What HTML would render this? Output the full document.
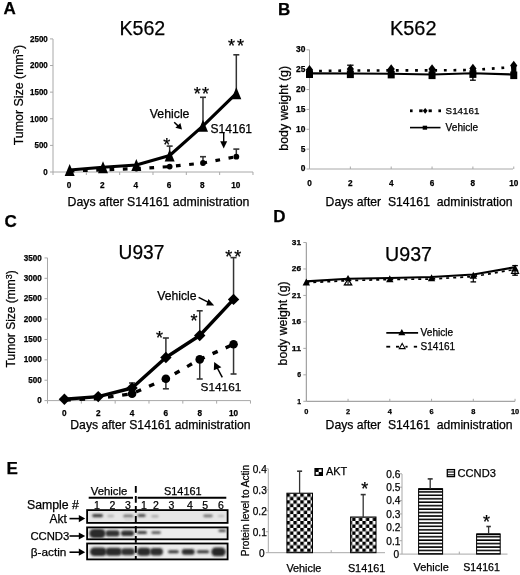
<!DOCTYPE html>
<html><head><meta charset="utf-8"><title>Figure</title>
<style>
html,body{margin:0;padding:0;background:#fff;}
body{width:520px;height:575px;overflow:hidden;}
svg{display:block;font-family:"Liberation Sans", sans-serif;will-change:transform;}
text{fill:#000;stroke:#000;stroke-width:0.25px;}
</style></head><body>
<svg width="520" height="575" viewBox="0 0 520 575">
<rect width="520" height="575" fill="#fff"/>
<text x="3.6" y="14.1" font-size="17" font-weight="bold" text-anchor="start" >A</text>
<text x="119.4" y="34.6" font-size="20" font-weight="normal" text-anchor="start" textLength="45.9" lengthAdjust="spacingAndGlyphs">K562</text>
<line x1="53" y1="39" x2="53" y2="172" stroke="#a8a8a8" stroke-width="1" />
<line x1="53" y1="172" x2="253" y2="172" stroke="#a8a8a8" stroke-width="1" />
<line x1="50" y1="172.0" x2="53" y2="172.0" stroke="#a8a8a8" stroke-width="1" />
<text x="47.8" y="174.9" font-size="9.0" font-weight="bold" text-anchor="end" textLength="4.45" lengthAdjust="spacingAndGlyphs">0</text>
<line x1="50" y1="145.38" x2="53" y2="145.38" stroke="#a8a8a8" stroke-width="1" />
<text x="47.8" y="148.28" font-size="9.0" font-weight="bold" text-anchor="end" textLength="13.35" lengthAdjust="spacingAndGlyphs">500</text>
<line x1="50" y1="118.75999999999999" x2="53" y2="118.75999999999999" stroke="#a8a8a8" stroke-width="1" />
<text x="47.8" y="121.66" font-size="9.0" font-weight="bold" text-anchor="end" textLength="17.80" lengthAdjust="spacingAndGlyphs">1000</text>
<line x1="50" y1="92.14" x2="53" y2="92.14" stroke="#a8a8a8" stroke-width="1" />
<text x="47.8" y="95.04" font-size="9.0" font-weight="bold" text-anchor="end" textLength="17.80" lengthAdjust="spacingAndGlyphs">1500</text>
<line x1="50" y1="65.52" x2="53" y2="65.52" stroke="#a8a8a8" stroke-width="1" />
<text x="47.8" y="68.42" font-size="9.0" font-weight="bold" text-anchor="end" textLength="17.80" lengthAdjust="spacingAndGlyphs">2000</text>
<line x1="50" y1="38.900000000000006" x2="53" y2="38.900000000000006" stroke="#a8a8a8" stroke-width="1" />
<text x="47.8" y="41.8" font-size="9.0" font-weight="bold" text-anchor="end" textLength="17.80" lengthAdjust="spacingAndGlyphs">2500</text>
<line x1="53.0" y1="172" x2="53.0" y2="175" stroke="#a8a8a8" stroke-width="1" />
<line x1="86.33" y1="172" x2="86.33" y2="175" stroke="#a8a8a8" stroke-width="1" />
<line x1="119.66" y1="172" x2="119.66" y2="175" stroke="#a8a8a8" stroke-width="1" />
<line x1="152.99" y1="172" x2="152.99" y2="175" stroke="#a8a8a8" stroke-width="1" />
<line x1="186.32" y1="172" x2="186.32" y2="175" stroke="#a8a8a8" stroke-width="1" />
<line x1="219.64999999999998" y1="172" x2="219.64999999999998" y2="175" stroke="#a8a8a8" stroke-width="1" />
<line x1="252.98" y1="172" x2="252.98" y2="175" stroke="#a8a8a8" stroke-width="1" />
<text x="69.07" y="188.2" font-size="8.2" font-weight="bold" text-anchor="middle" >0</text>
<text x="102.4" y="188.2" font-size="8.2" font-weight="bold" text-anchor="middle" >2</text>
<text x="135.73" y="188.2" font-size="8.2" font-weight="bold" text-anchor="middle" >4</text>
<text x="169.06" y="188.2" font-size="8.2" font-weight="bold" text-anchor="middle" >6</text>
<text x="202.39" y="188.2" font-size="8.2" font-weight="bold" text-anchor="middle" >8</text>
<text x="235.72" y="188.2" font-size="8.2" font-weight="bold" text-anchor="middle" >10</text>
<text x="67.6" y="206.3" font-size="12.3" font-weight="normal" text-anchor="start" >Days after S14161 administration</text>
<text transform="translate(22.9,95) rotate(-90)" font-size="12.4" text-anchor="middle">Tumor Size (mm<tspan font-size="9.5" dy="-3.8">3</tspan><tspan dy="3.8">)</tspan></text>
<line x1="169.66" y1="155.5" x2="169.66" y2="146.1" stroke="#333" stroke-width="1.5" />
<line x1="166.66" y1="146.1" x2="172.66" y2="146.1" stroke="#333" stroke-width="1.6" />
<line x1="202.99" y1="125.8" x2="202.99" y2="97.3" stroke="#333" stroke-width="1.5" />
<line x1="199.99" y1="97.3" x2="205.99" y2="97.3" stroke="#333" stroke-width="1.6" />
<line x1="236.32" y1="93.3" x2="236.32" y2="54.8" stroke="#333" stroke-width="1.5" />
<line x1="233.32" y1="54.8" x2="239.32" y2="54.8" stroke="#333" stroke-width="1.6" />
<line x1="202.99" y1="163.0" x2="202.99" y2="156.7" stroke="#333" stroke-width="1.5" />
<line x1="199.99" y1="156.7" x2="205.99" y2="156.7" stroke="#333" stroke-width="1.6" />
<line x1="236.32" y1="156.7" x2="236.32" y2="149.1" stroke="#333" stroke-width="1.5" />
<line x1="233.32" y1="149.1" x2="239.32" y2="149.1" stroke="#333" stroke-width="1.6" />
<polyline points="69.67,171.0 103.0,169.8 136.33,168.6 169.66,166.6 202.99,163.0 236.32,156.7" fill="none" stroke="#000" stroke-width="3.2" stroke-dasharray="4.7 8.6" stroke-linejoin="round" />
<circle cx="103.0" cy="169.8" r="2.9" fill="#000"/>
<circle cx="136.33" cy="168.6" r="2.9" fill="#000"/>
<circle cx="169.66" cy="166.6" r="2.9" fill="#000"/>
<circle cx="202.99" cy="163.0" r="2.9" fill="#000"/>
<circle cx="236.32" cy="156.7" r="2.9" fill="#000"/>
<polyline points="69.67,170.0 103.0,167.2 136.33,165.0 169.66,155.5 202.99,125.8 236.32,93.3" fill="none" stroke="#000" stroke-width="3.1"  stroke-linejoin="round" />
<polygon points="69.67,164.0 74.67,176.0 64.67,176.0" fill="#000" stroke="none" stroke-width="1"/>
<polygon points="103.0,161.2 108.0,173.2 98.0,173.2" fill="#000" stroke="none" stroke-width="1"/>
<polygon points="136.33,159.0 141.33,171.0 131.33,171.0" fill="#000" stroke="none" stroke-width="1"/>
<polygon points="169.66,149.5 174.66,161.5 164.66,161.5" fill="#000" stroke="none" stroke-width="1"/>
<polygon points="202.99,119.8 207.99,131.8 197.99,131.8" fill="#000" stroke="none" stroke-width="1"/>
<polygon points="236.32,87.3 241.32,99.3 231.32,99.3" fill="#000" stroke="none" stroke-width="1"/>
<text x="163.13" y="150.72" font-size="18" font-weight="normal" text-anchor="start" stroke="#000" stroke-width="0.4">*</text>
<text x="193.84" y="100.43" font-size="18" font-weight="normal" text-anchor="start" stroke="#000" stroke-width="0.4">*</text>
<text x="201.94" y="100.43" font-size="18" font-weight="normal" text-anchor="start" stroke="#000" stroke-width="0.4">*</text>
<text x="228.03" y="52.23" font-size="18" font-weight="normal" text-anchor="start" stroke="#000" stroke-width="0.4">*</text>
<text x="236.94" y="52.23" font-size="18" font-weight="normal" text-anchor="start" stroke="#000" stroke-width="0.4">*</text>
<text x="149.8" y="118.0" font-size="12.3" font-weight="normal" text-anchor="start" >Vehicle</text>
<text x="210.5" y="133.3" font-size="12.05" font-weight="normal" text-anchor="start" >S14161</text>
<line x1="174.2" y1="122.2" x2="178.6" y2="126.4" stroke="#000" stroke-width="1.5" />
<polygon points="182,129.4 175.4,127.8 180.4,122.9" fill="#000"/>
<line x1="223.7" y1="132.5" x2="223.7" y2="142" stroke="#000" stroke-width="1.4" />
<polygon points="223.7,148.6 220.2,141.3 227.2,141.3" fill="#000"/>
<text x="278.0" y="15.2" font-size="17" font-weight="bold" text-anchor="start" >B</text>
<text x="390.0" y="35.4" font-size="20" font-weight="normal" text-anchor="start" textLength="46.5" lengthAdjust="spacingAndGlyphs">K562</text>
<line x1="309.5" y1="49.8" x2="309.5" y2="169" stroke="#a8a8a8" stroke-width="1" />
<line x1="309.5" y1="169" x2="513" y2="169" stroke="#a8a8a8" stroke-width="1" />
<line x1="306.5" y1="169.0" x2="309.5" y2="169.0" stroke="#a8a8a8" stroke-width="1" />
<text x="305.4" y="171.4" font-size="8.4" font-weight="bold" text-anchor="end" >0</text>
<line x1="306.5" y1="149.14" x2="309.5" y2="149.14" stroke="#a8a8a8" stroke-width="1" />
<text x="305.4" y="151.54" font-size="8.4" font-weight="bold" text-anchor="end" >5</text>
<line x1="306.5" y1="129.28" x2="309.5" y2="129.28" stroke="#a8a8a8" stroke-width="1" />
<text x="305.4" y="131.68" font-size="8.4" font-weight="bold" text-anchor="end" >10</text>
<line x1="306.5" y1="109.42" x2="309.5" y2="109.42" stroke="#a8a8a8" stroke-width="1" />
<text x="305.4" y="111.82" font-size="8.4" font-weight="bold" text-anchor="end" >15</text>
<line x1="306.5" y1="89.56" x2="309.5" y2="89.56" stroke="#a8a8a8" stroke-width="1" />
<text x="305.4" y="91.96" font-size="8.4" font-weight="bold" text-anchor="end" >20</text>
<line x1="306.5" y1="69.7" x2="309.5" y2="69.7" stroke="#a8a8a8" stroke-width="1" />
<text x="305.4" y="72.1" font-size="8.4" font-weight="bold" text-anchor="end" >25</text>
<line x1="306.5" y1="49.84" x2="309.5" y2="49.84" stroke="#a8a8a8" stroke-width="1" />
<text x="305.4" y="52.24" font-size="8.4" font-weight="bold" text-anchor="end" >30</text>
<text x="309.5" y="186.2" font-size="8.2" font-weight="bold" text-anchor="middle" >0</text>
<line x1="350.35" y1="166.5" x2="350.35" y2="169" stroke="#a8a8a8" stroke-width="1" />
<text x="350.35" y="186.2" font-size="8.2" font-weight="bold" text-anchor="middle" >2</text>
<line x1="391.2" y1="166.5" x2="391.2" y2="169" stroke="#a8a8a8" stroke-width="1" />
<text x="391.2" y="186.2" font-size="8.2" font-weight="bold" text-anchor="middle" >4</text>
<line x1="432.05" y1="166.5" x2="432.05" y2="169" stroke="#a8a8a8" stroke-width="1" />
<text x="432.05" y="186.2" font-size="8.2" font-weight="bold" text-anchor="middle" >6</text>
<line x1="472.9" y1="166.5" x2="472.9" y2="169" stroke="#a8a8a8" stroke-width="1" />
<text x="472.9" y="186.2" font-size="8.2" font-weight="bold" text-anchor="middle" >8</text>
<line x1="513.75" y1="166.5" x2="513.75" y2="169" stroke="#a8a8a8" stroke-width="1" />
<text x="513.75" y="186.2" font-size="8.2" font-weight="bold" text-anchor="middle" >10</text>
<text x="325.6" y="205.7" font-size="12.2" font-weight="normal" text-anchor="start" >Days after&#160; S14161&#160; administration</text>
<text transform="translate(288.3,108.3) rotate(-90)" font-size="12.4" text-anchor="middle">body weight (g)</text>
<line x1="472.9" y1="74" x2="472.9" y2="80.2" stroke="#000" stroke-width="1.3" />
<line x1="470.0" y1="80.2" x2="475.79999999999995" y2="80.2" stroke="#000" stroke-width="1.3" />
<line x1="347.15000000000003" y1="65.2" x2="353.55" y2="65.2" stroke="#000" stroke-width="1.3" />
<polyline points="309.5,73.4 350.35,73.5 391.2,73.8 432.05,74.5 472.9,73.3 513.75,74.5" fill="none" stroke="#000" stroke-width="2.1"  stroke-linejoin="round" />
<polyline points="309.5,71.2 350.35,70.5 391.2,70.4 432.05,70.4 472.9,70.0 513.75,67.0" fill="none" stroke="#000" stroke-width="2.6" stroke-dasharray="2.8 6.8" stroke-linejoin="round" />
<rect x="306.0" y="70.4" width="7.0" height="7.6" fill="#000" />
<rect x="306.9" y="69.7" width="5.2" height="3.700000000000003" fill="#000" />
<rect x="346.85" y="70.5" width="7.0" height="7.6" fill="#000" />
<rect x="347.75" y="69.0" width="5.2" height="4.5" fill="#000" />
<rect x="387.7" y="70.8" width="7.0" height="7.6" fill="#000" />
<rect x="388.6" y="68.9" width="5.2" height="4.8999999999999915" fill="#000" />
<rect x="428.55" y="71.5" width="7.0" height="7.6" fill="#000" />
<rect x="429.45" y="68.9" width="5.2" height="5.599999999999994" fill="#000" />
<rect x="469.4" y="70.3" width="7.0" height="7.6" fill="#000" />
<rect x="470.3" y="68.5" width="5.2" height="4.799999999999997" fill="#000" />
<rect x="510.25" y="71.5" width="7.0" height="7.6" fill="#000" />
<rect x="511.15" y="65.5" width="5.2" height="9.0" fill="#000" />
<polygon points="309.50,65.00 313.10,69.70 309.50,74.40 305.90,69.70" fill="#000"/>
<polygon points="350.35,64.30 353.95,69.00 350.35,73.70 346.75,69.00" fill="#000"/>
<polygon points="391.20,64.20 394.80,68.90 391.20,73.60 387.60,68.90" fill="#000"/>
<polygon points="432.05,64.20 435.65,68.90 432.05,73.60 428.45,68.90" fill="#000"/>
<polygon points="472.90,63.80 476.50,68.50 472.90,73.20 469.30,68.50" fill="#000"/>
<polygon points="513.75,60.80 517.35,65.50 513.75,70.20 510.15,65.50" fill="#000"/>
<rect x="410.0" y="109.4" width="2.6000000000000227" height="2.8" fill="#000" />
<rect x="419.2" y="109.4" width="3.400000000000034" height="2.8" fill="#000" />
<rect x="428.6" y="109.4" width="3.1999999999999886" height="2.8" fill="#000" />
<rect x="438.4" y="109.4" width="2.6000000000000227" height="2.8" fill="#000" />
<polygon points="425.2,107.9 427.6,110.8 425.2,113.8 422.8,110.8" fill="#000"/>
<line x1="410" y1="127.6" x2="440.5" y2="127.6" stroke="#000" stroke-width="1.6" />
<rect x="422.7" y="125.7" width="4.4" height="4.0" fill="#000" />
<text x="445.6" y="113.7" font-size="9.8" font-weight="normal" text-anchor="start" >S14161</text>
<text x="445.6" y="131.1" font-size="10.1" font-weight="normal" text-anchor="start" >Vehicle</text>
<text x="4.5" y="227.2" font-size="17" font-weight="bold" text-anchor="start" >C</text>
<text x="118.6" y="259.3" font-size="20" font-weight="normal" text-anchor="start" textLength="45.7" lengthAdjust="spacingAndGlyphs">U937</text>
<line x1="47.5" y1="257.9" x2="47.5" y2="400.6" stroke="#a8a8a8" stroke-width="1" />
<line x1="47.5" y1="400.6" x2="250.5" y2="400.6" stroke="#a8a8a8" stroke-width="1" />
<line x1="44.5" y1="400.6" x2="47.5" y2="400.6" stroke="#a8a8a8" stroke-width="1" />
<text x="41.8" y="403.2" font-size="8.8" font-weight="bold" text-anchor="end" textLength="4.50" lengthAdjust="spacingAndGlyphs">0</text>
<line x1="44.5" y1="380.22" x2="47.5" y2="380.22" stroke="#a8a8a8" stroke-width="1" />
<text x="41.8" y="382.82" font-size="8.8" font-weight="bold" text-anchor="end" textLength="13.50" lengthAdjust="spacingAndGlyphs">500</text>
<line x1="44.5" y1="359.84000000000003" x2="47.5" y2="359.84000000000003" stroke="#a8a8a8" stroke-width="1" />
<text x="41.8" y="362.44" font-size="8.8" font-weight="bold" text-anchor="end" textLength="18.00" lengthAdjust="spacingAndGlyphs">1000</text>
<line x1="44.5" y1="339.46000000000004" x2="47.5" y2="339.46000000000004" stroke="#a8a8a8" stroke-width="1" />
<text x="41.8" y="342.06" font-size="8.8" font-weight="bold" text-anchor="end" textLength="18.00" lengthAdjust="spacingAndGlyphs">1500</text>
<line x1="44.5" y1="319.08000000000004" x2="47.5" y2="319.08000000000004" stroke="#a8a8a8" stroke-width="1" />
<text x="41.8" y="321.68" font-size="8.8" font-weight="bold" text-anchor="end" textLength="18.00" lengthAdjust="spacingAndGlyphs">2000</text>
<line x1="44.5" y1="298.70000000000005" x2="47.5" y2="298.70000000000005" stroke="#a8a8a8" stroke-width="1" />
<text x="41.8" y="301.3" font-size="8.8" font-weight="bold" text-anchor="end" textLength="18.00" lengthAdjust="spacingAndGlyphs">2500</text>
<line x1="44.5" y1="278.32000000000005" x2="47.5" y2="278.32000000000005" stroke="#a8a8a8" stroke-width="1" />
<text x="41.8" y="280.92" font-size="8.8" font-weight="bold" text-anchor="end" textLength="18.00" lengthAdjust="spacingAndGlyphs">3000</text>
<line x1="44.5" y1="257.94000000000005" x2="47.5" y2="257.94000000000005" stroke="#a8a8a8" stroke-width="1" />
<text x="41.8" y="260.54" font-size="8.8" font-weight="bold" text-anchor="end" textLength="18.00" lengthAdjust="spacingAndGlyphs">3500</text>
<line x1="47.5" y1="400.6" x2="47.5" y2="403.6" stroke="#a8a8a8" stroke-width="1" />
<line x1="81.33" y1="400.6" x2="81.33" y2="403.6" stroke="#a8a8a8" stroke-width="1" />
<line x1="115.16" y1="400.6" x2="115.16" y2="403.6" stroke="#a8a8a8" stroke-width="1" />
<line x1="148.99" y1="400.6" x2="148.99" y2="403.6" stroke="#a8a8a8" stroke-width="1" />
<line x1="182.82" y1="400.6" x2="182.82" y2="403.6" stroke="#a8a8a8" stroke-width="1" />
<line x1="216.64999999999998" y1="400.6" x2="216.64999999999998" y2="403.6" stroke="#a8a8a8" stroke-width="1" />
<line x1="250.48" y1="400.6" x2="250.48" y2="403.6" stroke="#a8a8a8" stroke-width="1" />
<text x="64.4" y="415.9" font-size="8.2" font-weight="bold" text-anchor="middle" >0</text>
<text x="98.23" y="415.9" font-size="8.2" font-weight="bold" text-anchor="middle" >2</text>
<text x="132.06" y="415.9" font-size="8.2" font-weight="bold" text-anchor="middle" >4</text>
<text x="165.89" y="415.9" font-size="8.2" font-weight="bold" text-anchor="middle" >6</text>
<text x="199.72" y="415.9" font-size="8.2" font-weight="bold" text-anchor="middle" >8</text>
<text x="233.55" y="415.9" font-size="8.2" font-weight="bold" text-anchor="middle" >10</text>
<text x="70.3" y="428.9" font-size="12.2" font-weight="normal" text-anchor="start" >Days after S14161 administration</text>
<text transform="translate(15.3,318.8) rotate(-90)" font-size="12.0" text-anchor="middle">Tumor Size (mm<tspan font-size="9.0" dy="-3.4">3</tspan><tspan dy="3.4">)</tspan></text>
<line x1="132.06" y1="388.0" x2="132.06" y2="383.0" stroke="#333" stroke-width="1.5" />
<line x1="129.06" y1="383.0" x2="135.06" y2="383.0" stroke="#333" stroke-width="1.6" />
<line x1="165.89" y1="357.5" x2="165.89" y2="338.0" stroke="#333" stroke-width="1.5" />
<line x1="162.89" y1="338.0" x2="168.89" y2="338.0" stroke="#333" stroke-width="1.6" />
<line x1="199.72" y1="335.5" x2="199.72" y2="310.8" stroke="#333" stroke-width="1.5" />
<line x1="196.72" y1="310.8" x2="202.72" y2="310.8" stroke="#333" stroke-width="1.6" />
<line x1="233.54999999999998" y1="299.4" x2="233.54999999999998" y2="257.6" stroke="#333" stroke-width="1.5" />
<line x1="230.54999999999998" y1="257.6" x2="236.54999999999998" y2="257.6" stroke="#333" stroke-width="1.6" />
<line x1="165.89" y1="378.8" x2="165.89" y2="388.8" stroke="#333" stroke-width="1.5" />
<line x1="162.89" y1="388.8" x2="168.89" y2="388.8" stroke="#333" stroke-width="1.6" />
<line x1="199.72" y1="359.4" x2="199.72" y2="379.0" stroke="#333" stroke-width="1.5" />
<line x1="196.72" y1="379.0" x2="202.72" y2="379.0" stroke="#333" stroke-width="1.6" />
<line x1="233.54999999999998" y1="344.3" x2="233.54999999999998" y2="374.0" stroke="#333" stroke-width="1.5" />
<line x1="230.54999999999998" y1="374.0" x2="236.54999999999998" y2="374.0" stroke="#333" stroke-width="1.6" />
<polyline points="64.4,400.0 98.23,398.5 132.06,393.8 165.89,378.8 199.72,359.4 233.55,344.3" fill="none" stroke="#000" stroke-width="3.4" stroke-dasharray="5.6 8.7" stroke-linejoin="round" stroke-dashoffset="-0.8"/>
<polyline points="64.4,399.3 98.23,396.6 132.06,388.0 165.89,357.5 199.72,335.5 233.55,299.4" fill="none" stroke="#000" stroke-width="3.4"  stroke-linejoin="round" />
<polygon points="64.4,393.6 70.10000000000001,399.3 64.4,405.0 58.7,399.3" fill="#000"/>
<polygon points="98.23,390.90000000000003 103.93,396.6 98.23,402.3 92.53,396.6" fill="#000"/>
<polygon points="132.06,382.3 137.76,388.0 132.06,393.7 126.36,388.0" fill="#000"/>
<polygon points="165.89,351.8 171.58999999999997,357.5 165.89,363.2 160.19,357.5" fill="#000"/>
<polygon points="199.72,329.8 205.42,335.5 199.72,341.2 194.02,335.5" fill="#000"/>
<polygon points="233.55,293.7 239.25,299.4 233.55,305.09999999999997 227.85000000000002,299.4" fill="#000"/>
<circle cx="132.06" cy="393.8" r="4.3" fill="#000"/>
<circle cx="165.89" cy="378.8" r="4.3" fill="#000"/>
<circle cx="199.72" cy="359.4" r="4.3" fill="#000"/>
<circle cx="233.55" cy="344.3" r="4.3" fill="#000"/>
<text x="155.94" y="344.23" font-size="18" font-weight="normal" text-anchor="start" stroke="#000" stroke-width="0.4">*</text>
<text x="190.44" y="327.43" font-size="18" font-weight="normal" text-anchor="start" stroke="#000" stroke-width="0.4">*</text>
<text x="225.34" y="263.03" font-size="18" font-weight="normal" text-anchor="start" stroke="#000" stroke-width="0.4">*</text>
<text x="234.13" y="263.03" font-size="18" font-weight="normal" text-anchor="start" stroke="#000" stroke-width="0.4">*</text>
<text x="157.2" y="299.5" font-size="12.2" font-weight="normal" text-anchor="start" >Vehicle</text>
<text x="200.6" y="391.3" font-size="11.8" font-weight="normal" text-anchor="start" >S14161</text>
<line x1="198.6" y1="297.4" x2="208.5" y2="302.4" stroke="#000" stroke-width="1.5" />
<polygon points="214.2,305.6 206.2,305.4 208.4,299.0" fill="#000"/>
<line x1="222.3" y1="377.3" x2="216.5" y2="366.5" stroke="#000" stroke-width="1.5" />
<polygon points="214.2,362.0 221.4,367.2 213.8,370.2" fill="#000"/>
<text x="273.2" y="222.3" font-size="17" font-weight="bold" text-anchor="start" >D</text>
<text x="385.1" y="260.8" font-size="20" font-weight="normal" text-anchor="start" textLength="46.9" lengthAdjust="spacingAndGlyphs">U937</text>
<line x1="306.3" y1="242.5" x2="306.3" y2="401.3" stroke="#8e8e8e" stroke-width="1" />
<line x1="306.3" y1="401.3" x2="515" y2="401.3" stroke="#8e8e8e" stroke-width="1" />
<line x1="303.3" y1="401.3" x2="306.3" y2="401.3" stroke="#a8a8a8" stroke-width="1" />
<text x="301.0" y="403.7" font-size="6.8" font-weight="bold" text-anchor="end" >1</text>
<line x1="303.3" y1="374.83333333333337" x2="306.3" y2="374.83333333333337" stroke="#a8a8a8" stroke-width="1" />
<text x="301.0" y="377.23" font-size="6.8" font-weight="bold" text-anchor="end" >6</text>
<line x1="303.3" y1="348.3666666666667" x2="306.3" y2="348.3666666666667" stroke="#a8a8a8" stroke-width="1" />
<text x="301.0" y="350.77" font-size="6.8" font-weight="bold" text-anchor="end" textLength="9.2" lengthAdjust="spacingAndGlyphs">11</text>
<line x1="303.3" y1="321.9" x2="306.3" y2="321.9" stroke="#a8a8a8" stroke-width="1" />
<text x="301.0" y="324.3" font-size="6.8" font-weight="bold" text-anchor="end" textLength="9.2" lengthAdjust="spacingAndGlyphs">16</text>
<line x1="303.3" y1="295.43333333333334" x2="306.3" y2="295.43333333333334" stroke="#a8a8a8" stroke-width="1" />
<text x="301.0" y="297.83" font-size="6.8" font-weight="bold" text-anchor="end" textLength="9.2" lengthAdjust="spacingAndGlyphs">21</text>
<line x1="303.3" y1="268.9666666666667" x2="306.3" y2="268.9666666666667" stroke="#a8a8a8" stroke-width="1" />
<text x="301.0" y="271.37" font-size="6.8" font-weight="bold" text-anchor="end" textLength="9.2" lengthAdjust="spacingAndGlyphs">26</text>
<line x1="303.3" y1="242.5" x2="306.3" y2="242.5" stroke="#a8a8a8" stroke-width="1" />
<text x="301.0" y="244.9" font-size="6.8" font-weight="bold" text-anchor="end" textLength="9.2" lengthAdjust="spacingAndGlyphs">31</text>
<text x="306.3" y="414.0" font-size="7.4" font-weight="bold" text-anchor="middle" >0</text>
<line x1="348.05" y1="398.8" x2="348.05" y2="401.3" stroke="#a8a8a8" stroke-width="1" />
<text x="348.05" y="414.0" font-size="7.4" font-weight="bold" text-anchor="middle" >2</text>
<line x1="389.8" y1="398.8" x2="389.8" y2="401.3" stroke="#a8a8a8" stroke-width="1" />
<text x="389.8" y="414.0" font-size="7.4" font-weight="bold" text-anchor="middle" >4</text>
<line x1="431.55" y1="398.8" x2="431.55" y2="401.3" stroke="#a8a8a8" stroke-width="1" />
<text x="431.55" y="414.0" font-size="7.4" font-weight="bold" text-anchor="middle" >6</text>
<line x1="473.3" y1="398.8" x2="473.3" y2="401.3" stroke="#a8a8a8" stroke-width="1" />
<text x="473.3" y="414.0" font-size="7.4" font-weight="bold" text-anchor="middle" >8</text>
<line x1="515.05" y1="398.8" x2="515.05" y2="401.3" stroke="#a8a8a8" stroke-width="1" />
<text x="515.05" y="414.0" font-size="7.4" font-weight="bold" text-anchor="middle" >10</text>
<text x="325.6" y="429.0" font-size="12.2" font-weight="normal" text-anchor="start" >Days after&#160; S14161&#160; administration</text>
<text transform="translate(287.0,323.4) rotate(-90)" font-size="12.3" text-anchor="middle">body weight (g)</text>
<polyline points="306.3,282.8 348.05,280.6 389.8,279.5 431.55,279.0 473.3,276.6 515.05,269.4" fill="none" stroke="#000" stroke-width="1.7" stroke-dasharray="3 4" stroke-linejoin="round" />
<line x1="348.05" y1="279" x2="348.05" y2="284.6" stroke="#000" stroke-width="1.1" />
<line x1="344.65000000000003" y1="284.6" x2="351.45" y2="284.6" stroke="#000" stroke-width="1.3" />
<polygon points="348.05,279.2 351.75,284.8 344.35,284.8" fill="#fff" stroke="#000" stroke-width="1.2"/>
<line x1="348.05" y1="280" x2="348.05" y2="284.6" stroke="#000" stroke-width="1.1" />
<line x1="473.3" y1="274" x2="473.3" y2="281.9" stroke="#000" stroke-width="1.2" />
<line x1="470.5" y1="281.9" x2="476.1" y2="281.9" stroke="#000" stroke-width="1.3" />
<line x1="515.05" y1="265.6" x2="515.05" y2="275.2" stroke="#000" stroke-width="1.2" />
<line x1="512.25" y1="265.6" x2="517.8499999999999" y2="265.6" stroke="#000" stroke-width="1.3" />
<line x1="512.25" y1="275.2" x2="517.8499999999999" y2="275.2" stroke="#000" stroke-width="1.3" />
<polygon points="515.05,267.09999999999997 518.55,273.3 511.54999999999995,273.3" fill="#fff" stroke="#000" stroke-width="1.2"/>
<line x1="515.05" y1="271" x2="515.05" y2="275.2" stroke="#000" stroke-width="1.1" />
<polyline points="306.3,281.4 348.05,278.8 389.8,278.0 431.55,277.0 473.3,274.5 515.05,267.2" fill="none" stroke="#000" stroke-width="2.1"  stroke-linejoin="round" />
<polygon points="306.3,278.59999999999997 310.0,285.59999999999997 302.6,285.59999999999997" fill="#000" stroke="none" stroke-width="1"/>
<polygon points="348.05,275.0 351.45,280.79999999999995 344.65000000000003,280.79999999999995" fill="#000" stroke="none" stroke-width="1"/>
<polygon points="389.8,275.2 393.5,282.2 386.1,282.2" fill="#000" stroke="none" stroke-width="1"/>
<polygon points="431.55,274.2 435.25,281.2 427.85,281.2" fill="#000" stroke="none" stroke-width="1"/>
<polygon points="473.3,271.7 477.0,278.7 469.6,278.7" fill="#000" stroke="none" stroke-width="1"/>
<polygon points="515.05,264.4 518.75,271.4 511.34999999999997,271.4" fill="#000" stroke="none" stroke-width="1"/>
<line x1="386.3" y1="332.9" x2="418.1" y2="332.9" stroke="#000" stroke-width="1.9" />
<polygon points="401.8,329.09999999999997 405.3,335.3 398.3,335.3" fill="#000" stroke="none" stroke-width="1"/>
<line x1="386.3" y1="346.7" x2="390.2" y2="346.7" stroke="#000" stroke-width="1.8" />
<line x1="396.0" y1="346.7" x2="399.0" y2="346.7" stroke="#000" stroke-width="1.8" />
<line x1="405.4" y1="346.7" x2="407.6" y2="346.7" stroke="#000" stroke-width="1.8" />
<line x1="413.8" y1="346.7" x2="417.1" y2="346.7" stroke="#000" stroke-width="1.8" />
<polygon points="402.2,343.4 405.09999999999997,348.6 399.3,348.6" fill="#fff" stroke="#000" stroke-width="1.1"/>
<text x="420.6" y="335.9" font-size="10.1" font-weight="normal" text-anchor="start" >Vehicle</text>
<text x="420.6" y="350.1" font-size="10.0" font-weight="normal" text-anchor="start" >S14161</text>
<text x="6.5" y="473.6" font-size="17" font-weight="bold" text-anchor="start" >E</text>
<text x="90.8" y="495.0" font-size="11.35" font-weight="normal" text-anchor="start" >Vehicle</text>
<text x="164.0" y="494.8" font-size="10.9" font-weight="normal" text-anchor="start" >S14161</text>
<line x1="88.7" y1="497.8" x2="133.0" y2="497.8" stroke="#000" stroke-width="2.0" />
<line x1="137.7" y1="497.7" x2="226.3" y2="497.7" stroke="#000" stroke-width="2.0" />
<text x="27.0" y="508.8" font-size="12.3" font-weight="normal" text-anchor="start" >Sample #</text>
<text x="96.9" y="508.7" font-size="10.5" font-weight="normal" text-anchor="middle" >1</text>
<text x="112.3" y="508.7" font-size="10.5" font-weight="normal" text-anchor="middle" >2</text>
<text x="128.0" y="508.7" font-size="10.5" font-weight="normal" text-anchor="middle" >3</text>
<text x="143.8" y="508.7" font-size="10.5" font-weight="normal" text-anchor="middle" >1</text>
<text x="156.0" y="508.7" font-size="10.5" font-weight="normal" text-anchor="middle" >2</text>
<text x="171.3" y="508.7" font-size="10.5" font-weight="normal" text-anchor="middle" >3</text>
<text x="189.9" y="508.7" font-size="10.5" font-weight="normal" text-anchor="middle" >4</text>
<text x="205.1" y="508.7" font-size="10.5" font-weight="normal" text-anchor="middle" >5</text>
<text x="221.0" y="508.7" font-size="10.5" font-weight="normal" text-anchor="middle" >6</text>
<text x="49.5" y="522.5" font-size="12.0" font-weight="normal" text-anchor="start" >Akt</text>
<text x="30.4" y="540.1" font-size="11.3" font-weight="normal" text-anchor="start" >CCND3</text>
<text x="30.8" y="555.6" font-size="11.8" font-weight="normal" text-anchor="start" >&#946;-actin</text>
<line x1="69.5" y1="518.6" x2="80.0" y2="518.6" stroke="#000" stroke-width="1.6" />
<polygon points="85.2,518.6 78.8,515.0 78.8,522.2" fill="#000"/>
<line x1="69.5" y1="536.0" x2="80.0" y2="536.0" stroke="#000" stroke-width="1.6" />
<polygon points="85.2,536.0 78.8,532.4 78.8,539.6" fill="#000"/>
<line x1="69.5" y1="552.2" x2="80.0" y2="552.2" stroke="#000" stroke-width="1.6" />
<polygon points="85.2,552.2 78.8,548.6 78.8,555.8000000000001" fill="#000"/>
<rect x="87.1" y="510.09999999999997" width="140.5" height="12.799999999999965" fill="#e6e6e6" stroke="#000" stroke-width="1.8"/>
<rect x="87.1" y="527.4" width="140.5" height="11.900000000000045" fill="#ececec" stroke="#000" stroke-width="1.8"/>
<rect x="87.1" y="543.5" width="140.5" height="15.899999999999931" fill="#ebebeb" stroke="#000" stroke-width="1.8"/>
<defs><filter id="bl" x="-50%" y="-80%" width="200%" height="260%"><feGaussianBlur stdDeviation="0.9"/></filter></defs>
<rect x="92.2" y="514.00" width="10.80" height="3.2" rx="1.60" fill="#3c3c3c" filter="url(#bl)"/>
<rect x="107.4" y="514.80" width="6.60" height="2.4" rx="1.20" fill="#b0b0b0" filter="url(#bl)"/>
<rect x="123.2" y="514.50" width="10.10" height="3.0" rx="1.50" fill="#7a7a7a" filter="url(#bl)"/>
<rect x="124.5" y="518.25" width="7.50" height="2.5" rx="1.25" fill="#d4d4d4" filter="url(#bl)"/>
<rect x="137.7" y="514.10" width="7.90" height="3.0" rx="1.50" fill="#505050" filter="url(#bl)"/>
<rect x="151.4" y="515.00" width="7.20" height="2.4" rx="1.20" fill="#a8a8a8" filter="url(#bl)"/>
<rect x="203.3" y="514.40" width="9.40" height="2.8" rx="1.40" fill="#707070" filter="url(#bl)"/>
<rect x="217.8" y="514.90" width="6.50" height="2.2" rx="1.10" fill="#b8b8b8" filter="url(#bl)"/>
<rect x="89.3" y="529.00" width="16.30" height="9.0" rx="4.50" fill="#2a2a2a" filter="url(#bl)"/>
<rect x="105.6" y="530.30" width="14.00" height="6.2" rx="3.10" fill="#303030" filter="url(#bl)"/>
<rect x="121.0" y="530.50" width="13.00" height="5.6" rx="2.80" fill="#333333" filter="url(#bl)"/>
<rect x="137.0" y="530.90" width="10.00" height="3.2" rx="1.60" fill="#3e3e3e" filter="url(#bl)"/>
<rect x="151.4" y="531.30" width="9.40" height="2.6" rx="1.30" fill="#5a5a5a" filter="url(#bl)"/>
<rect x="218.5" y="529.60" width="7.50" height="2.4" rx="1.20" fill="#4a4a4a" filter="url(#bl)"/>
<rect x="90.0" y="547.50" width="16.80" height="8.6" rx="4.30" fill="#2a2a2a" filter="url(#bl)"/>
<rect x="105.5" y="547.80" width="16.30" height="8.0" rx="4.00" fill="#2c2c2c" filter="url(#bl)"/>
<rect x="121.0" y="548.30" width="13.80" height="7.0" rx="3.50" fill="#303030" filter="url(#bl)"/>
<rect x="137.0" y="547.80" width="13.60" height="8.0" rx="4.00" fill="#2a2a2a" filter="url(#bl)"/>
<rect x="150.0" y="548.10" width="13.00" height="7.4" rx="3.70" fill="#2e2e2e" filter="url(#bl)"/>
<rect x="168.0" y="550.30" width="10.80" height="3.0" rx="1.50" fill="#353535" filter="url(#bl)"/>
<rect x="181.7" y="548.90" width="13.00" height="5.8" rx="2.90" fill="#2e2e2e" filter="url(#bl)"/>
<rect x="196.8" y="550.30" width="12.30" height="3.0" rx="1.50" fill="#353535" filter="url(#bl)"/>
<rect x="211.3" y="547.45" width="14.40" height="8.7" rx="4.35" fill="#262626" filter="url(#bl)"/>
<line x1="135.8" y1="486.0" x2="135.8" y2="559.0" stroke="#000" stroke-width="1.9" stroke-dasharray="6.8 3.2"/>
<defs><pattern id="chk" x="286.5" y="493.4" width="6.9" height="6.9" patternUnits="userSpaceOnUse"><rect width="6.9" height="6.9" fill="#fff"/><rect width="3.45" height="3.45" fill="#000"/><rect x="3.45" y="3.45" width="3.45" height="3.45" fill="#000"/></pattern><pattern id="hs" x="0" y="489.2" width="10" height="3.45" patternUnits="userSpaceOnUse"><rect width="10" height="3.45" fill="#fff"/><rect y="1.9" width="10" height="1.55" fill="#000"/></pattern></defs>
<line x1="268.3" y1="468.8" x2="268.3" y2="552.7" stroke="#a8a8a8" stroke-width="1" />
<line x1="268.3" y1="552.7" x2="385" y2="552.7" stroke="#a8a8a8" stroke-width="1" />
<line x1="265.8" y1="552.7" x2="268.3" y2="552.7" stroke="#a8a8a8" stroke-width="1" />
<text x="264.5" y="556.5" font-size="10.1" font-weight="normal" text-anchor="end" >0</text>
<line x1="265.8" y1="531.725" x2="268.3" y2="531.725" stroke="#a8a8a8" stroke-width="1" />
<text x="266.8" y="535.52" font-size="10.1" font-weight="normal" text-anchor="end" >0.1</text>
<line x1="265.8" y1="510.75" x2="268.3" y2="510.75" stroke="#a8a8a8" stroke-width="1" />
<text x="266.8" y="514.55" font-size="10.1" font-weight="normal" text-anchor="end" >0.2</text>
<line x1="265.8" y1="489.77500000000003" x2="268.3" y2="489.77500000000003" stroke="#a8a8a8" stroke-width="1" />
<text x="266.8" y="493.58" font-size="10.1" font-weight="normal" text-anchor="end" >0.3</text>
<line x1="265.8" y1="468.8" x2="268.3" y2="468.8" stroke="#a8a8a8" stroke-width="1" />
<text x="266.8" y="472.6" font-size="10.1" font-weight="normal" text-anchor="end" >0.4</text>
<line x1="331.2" y1="550.2" x2="331.2" y2="552.7" stroke="#a8a8a8" stroke-width="1" />
<rect x="286.9" y="493.2" width="25.6" height="59.50000000000006" fill="url(#chk)" stroke="#000" stroke-width="1"/>
<rect x="350.6" y="517.0" width="25.4" height="35.700000000000045" fill="url(#chk)" stroke="#000" stroke-width="1"/>
<line x1="299.6" y1="493.2" x2="299.6" y2="471.2" stroke="#333" stroke-width="1.3" />
<line x1="297.1" y1="471.2" x2="302.1" y2="471.2" stroke="#333" stroke-width="1.6" />
<line x1="363.2" y1="517.0" x2="363.2" y2="494.6" stroke="#333" stroke-width="1.3" />
<line x1="360.7" y1="494.6" x2="365.7" y2="494.6" stroke="#333" stroke-width="1.6" />
<text x="361.34" y="494.53" font-size="18" font-weight="normal" text-anchor="start" stroke="#000" stroke-width="0.4">*</text>
<text x="286.4" y="571.7" font-size="10.85" font-weight="normal" text-anchor="start" >Vehicle</text>
<text x="347.9" y="571.7" font-size="10.85" font-weight="normal" text-anchor="start" >S14161</text>
<text transform="translate(248.7,510.5) rotate(-90)" font-size="10.1" text-anchor="middle">Protein level to Actin</text>
<rect x="315.1" y="468.7" width="7.2" height="6.6" fill="#fff" stroke="#000" stroke-width="1.4"/>
<rect x="315.1" y="468.7" width="3.6" height="3.3" fill="#000" />
<rect x="318.7" y="472.0" width="3.6" height="3.3" fill="#000" />
<text x="326.0" y="474.9" font-size="10.9" font-weight="normal" text-anchor="start" >AKT</text>
<line x1="402.0" y1="474.0" x2="402.0" y2="554.1" stroke="#a8a8a8" stroke-width="1" />
<line x1="402.0" y1="554.1" x2="507.5" y2="554.1" stroke="#a8a8a8" stroke-width="1" />
<line x1="399.5" y1="554.1" x2="402.0" y2="554.1" stroke="#a8a8a8" stroke-width="1" />
<text x="399.0" y="557.9" font-size="10.1" font-weight="normal" text-anchor="end" >0</text>
<line x1="399.5" y1="540.7166666666667" x2="402.0" y2="540.7166666666667" stroke="#a8a8a8" stroke-width="1" />
<text x="400.4" y="544.52" font-size="10.1" font-weight="normal" text-anchor="end" >0.1</text>
<line x1="399.5" y1="527.3333333333334" x2="402.0" y2="527.3333333333334" stroke="#a8a8a8" stroke-width="1" />
<text x="400.4" y="531.13" font-size="10.1" font-weight="normal" text-anchor="end" >0.2</text>
<line x1="399.5" y1="513.95" x2="402.0" y2="513.95" stroke="#a8a8a8" stroke-width="1" />
<text x="400.4" y="517.75" font-size="10.1" font-weight="normal" text-anchor="end" >0.3</text>
<line x1="399.5" y1="500.5666666666667" x2="402.0" y2="500.5666666666667" stroke="#a8a8a8" stroke-width="1" />
<text x="400.4" y="504.37" font-size="10.1" font-weight="normal" text-anchor="end" >0.4</text>
<line x1="399.5" y1="487.1833333333334" x2="402.0" y2="487.1833333333334" stroke="#a8a8a8" stroke-width="1" />
<text x="400.4" y="490.98" font-size="10.1" font-weight="normal" text-anchor="end" >0.5</text>
<line x1="399.5" y1="473.80000000000007" x2="402.0" y2="473.80000000000007" stroke="#a8a8a8" stroke-width="1" />
<text x="400.4" y="477.6" font-size="10.1" font-weight="normal" text-anchor="end" >0.6</text>
<line x1="459.3" y1="551.6" x2="459.3" y2="554.1" stroke="#a8a8a8" stroke-width="1" />
<rect x="418.6" y="488.8" width="24.0" height="65.30000000000001" fill="url(#hs)" stroke="#000" stroke-width="1"/>
<line x1="418.6" y1="489.2" x2="442.6" y2="489.2" stroke="#000" stroke-width="1.8" />
<rect x="476.6" y="534.0" width="23.6" height="20.100000000000023" fill="url(#hs)" stroke="#000" stroke-width="1"/>
<line x1="476.6" y1="534.3" x2="500.2" y2="534.3" stroke="#000" stroke-width="1.6" />
<line x1="430.2" y1="488.8" x2="430.2" y2="478.9" stroke="#333" stroke-width="1.3" />
<line x1="427.7" y1="478.9" x2="432.7" y2="478.9" stroke="#333" stroke-width="1.6" />
<line x1="488.6" y1="534.0" x2="488.6" y2="526.5" stroke="#333" stroke-width="1.3" />
<line x1="486.35" y1="526.5" x2="490.85" y2="526.5" stroke="#333" stroke-width="1.6" />
<text x="482.94" y="528.43" font-size="18" font-weight="normal" text-anchor="start" stroke="#000" stroke-width="0.4">*</text>
<text x="413.5" y="570.8" font-size="10.95" font-weight="normal" text-anchor="start" >Vehicle</text>
<text x="463.3" y="571.2" font-size="10.6" font-weight="normal" text-anchor="start" >S14161</text>
<rect x="447.3" y="469.6" width="7.2" height="7.0" fill="#fff" stroke="#000" stroke-width="1.3"/>
<line x1="447.3" y1="472.0" x2="454.5" y2="472.0" stroke="#000" stroke-width="1.1" />
<line x1="447.3" y1="474.8" x2="454.5" y2="474.8" stroke="#000" stroke-width="1.1" />
<text x="457.6" y="477.0" font-size="11.1" font-weight="normal" text-anchor="start" >CCND3</text>
</svg>
</body></html>
